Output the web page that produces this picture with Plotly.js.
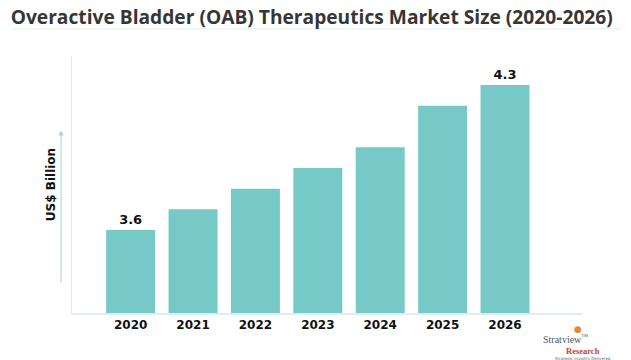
<!DOCTYPE html>
<html>
<head>
<meta charset="utf-8">
<script src="https://cdn.plot.ly/plotly-3.0.1.min.js"></script>
<style>html,body{margin:0;padding:0;background:#fff;}#chart{width:631px;height:360px;}</style>
</head>
<body>
<div id="chart"></div>
<script>
const years = ["2020","2021","2022","2023","2024","2025","2026"];
const marketSize = [3.6, 3.7, 3.8, 3.9, 4.0, 4.2, 4.3];
const shownLabels = ["3.6", "", "", "", "", "", "4.3"];
const titleText = "Overactive Bladder (OAB) Therapeutics Market Size (2020-2026)";
const yTitle = "US$ Billion";

const trace = {
  type: "bar",
  x: years,
  y: marketSize,
  marker: {color: "#76c9c6"},
  text: shownLabels,
  textposition: "outside",
  cliponaxis: false,
  textfont: {family: "DejaVu Sans", size: 13, color: "#111", weight: "bold"},
  hoverinfo: "none"
};

const layout = {
  width: 631, height: 360,
  margin: {l: 72, r: 48, t: 56, b: 47},
  paper_bgcolor: "#fff", plot_bgcolor: "#fff",
  showlegend: false,
  bargap: 0.215,
  title: {text: "<b>" + titleText + "</b>", x: 0.494, xanchor: "center", y: 0.953, yanchor: "middle",
          font: {family: "Open Sans", size: 19.2, color: "#363636"}},
  xaxis: {type: "category", range: [-0.94, 7.25], showgrid: false, zeroline: false,
          showline: true, linecolor: "#e2ecee", linewidth: 1.5, ticks: "",
          tickfont: {family: "DejaVu Sans", size: 12, color: "#111", weight: "bold"}},
  yaxis: {range: [3.2, 4.44], showgrid: false, zeroline: false, showticklabels: false,
          showline: true, linecolor: "#e2ecee", linewidth: 1.5, ticks: "",
          title: {text: "<b>" + yTitle + "</b>", standoff: 12, font: {family: "DejaVu Sans", size: 12, color: "#111"}}},
  shapes: [
    {type: "line", xref: "paper", yref: "paper", x0: -0.117, x1: 1.075, y0: 1.106, y1: 1.106,
     line: {color: "#e6eeee", width: 1}}
  ],
  annotations: [
    {xref: "paper", yref: "paper", x: -0.0215, y: 0.71, ax: -0.0215, ay: 0.11, axref: "paper", ayref: "paper",
     showarrow: true, arrowhead: 2, arrowsize: 1, arrowwidth: 1, arrowcolor: "#9fd6d4", text: ""},
    {xref: "paper", yref: "paper", x: 0.965, y: -0.1, xanchor: "center", yanchor: "middle", showarrow: false,
     text: "Stratview<sup>™</sup>", font: {family: "Liberation Serif", size: 10, color: "#555"}},
    {xref: "paper", yref: "paper", x: 1.0, y: -0.147, xanchor: "center", yanchor: "middle", showarrow: false,
     text: "<b>Research</b>", font: {family: "Liberation Serif", size: 8.5, color: "#c9412b"}},
    {xref: "paper", yref: "paper", x: 1.0, y: -0.176, xanchor: "center", yanchor: "middle", showarrow: false,
     text: "Strategic Insights Delivered", font: {family: "DejaVu Sans", size: 4, color: "#666"}},
    {xref: "paper", yref: "paper", x: 0.99, y: -0.062, xanchor: "center", yanchor: "middle", showarrow: false,
     text: "●", font: {family: "DejaVu Sans", size: 9, color: "#e08a3c"}}
  ]
};

Plotly.newPlot("chart", [trace], layout, {displayModeBar: false, staticPlot: true});
</script>
</body>
</html>
